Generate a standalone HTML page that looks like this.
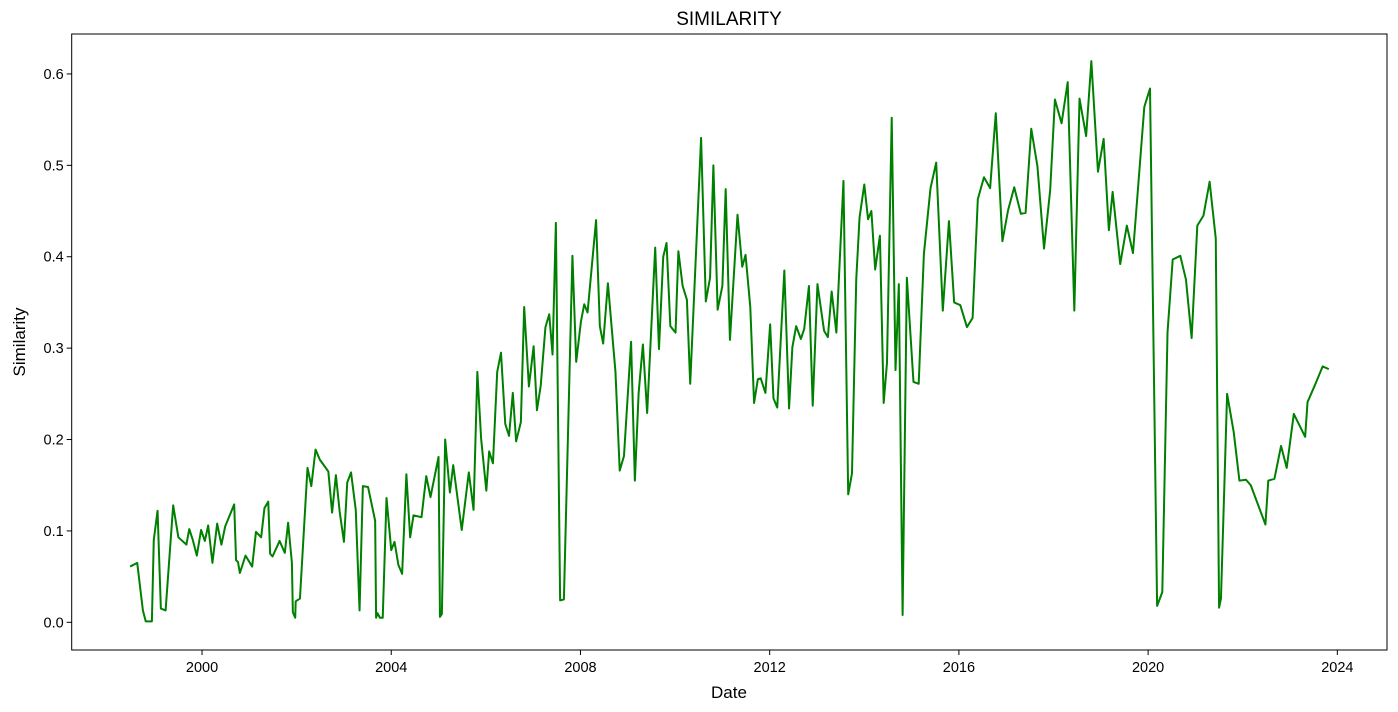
<!DOCTYPE html>
<html><head><meta charset="utf-8">
<style>
html,body{margin:0;padding:0;background:#fff;}
svg{display:block;font-family:"Liberation Sans","DejaVu Sans",sans-serif;}
</style></head>
<body>
<svg id="chart" width="1398" height="712" viewBox="0 0 1398 712" xmlns="http://www.w3.org/2000/svg">
<rect x="0" y="0" width="1398" height="712" fill="#fff"/>
<text x="729" y="25" font-size="19" text-anchor="middle" fill="#000">SIMILARITY</text>
<text x="729" y="698" font-size="17" text-anchor="middle" fill="#000">Date</text>
<text x="25" y="342" font-size="17" text-anchor="middle" fill="#000" transform="rotate(-90 25 342)">Similarity</text>
<g id="ticks"></g>
<g id="plot"></g>
<rect x="71.7" y="34" width="1315.3" height="616" fill="none" stroke="#000" stroke-width="1"/>
</svg>
<script>
const dates = [1998.48,1998.63,1998.75,1998.81,1998.94,1998.98,1999.06,1999.13,1999.23,1999.39,1999.50,1999.67,1999.73,1999.80,1999.89,1999.98,2000.06,2000.13,2000.22,2000.32,2000.41,2000.49,2000.68,2000.72,2000.76,2000.80,2000.92,2001.06,2001.14,2001.25,2001.32,2001.40,2001.44,2001.49,2001.64,2001.75,2001.82,2001.90,2001.92,2001.97,2001.98,2002.07,2002.23,2002.31,2002.40,2002.49,2002.67,2002.75,2002.83,2002.91,2003.00,2003.07,2003.15,2003.25,2003.33,2003.40,2003.51,2003.66,2003.68,2003.71,2003.76,2003.82,2003.90,2004.00,2004.07,2004.15,2004.23,2004.32,2004.40,2004.47,2004.64,2004.74,2004.83,2005.00,2005.03,2005.07,2005.14,2005.24,2005.31,2005.49,2005.64,2005.74,2005.82,2005.90,2006.01,2006.07,2006.15,2006.24,2006.32,2006.41,2006.49,2006.57,2006.64,2006.74,2006.81,2006.91,2007.01,2007.08,2007.16,2007.26,2007.34,2007.41,2007.48,2007.57,2007.65,2007.83,2007.91,2008.01,2008.08,2008.15,2008.33,2008.41,2008.48,2008.58,2008.74,2008.83,2008.92,2009.07,2009.15,2009.23,2009.32,2009.41,2009.58,2009.66,2009.75,2009.82,2009.90,2010.01,2010.07,2010.16,2010.25,2010.32,2010.55,2010.65,2010.74,2010.81,2010.90,2011.00,2011.07,2011.16,2011.32,2011.42,2011.49,2011.59,2011.67,2011.75,2011.81,2011.91,2012.01,2012.08,2012.16,2012.31,2012.41,2012.48,2012.56,2012.66,2012.73,2012.83,2012.91,2013.01,2013.15,2013.23,2013.31,2013.41,2013.56,2013.66,2013.74,2013.83,2013.90,2014.00,2014.08,2014.15,2014.23,2014.33,2014.41,2014.48,2014.58,2014.66,2014.73,2014.81,2014.90,2015.04,2015.15,2015.26,2015.40,2015.52,2015.66,2015.79,2015.90,2016.03,2016.17,2016.29,2016.40,2016.53,2016.66,2016.78,2016.92,2017.04,2017.17,2017.31,2017.41,2017.53,2017.66,2017.80,2017.93,2018.03,2018.17,2018.30,2018.44,2018.55,2018.69,2018.80,2018.94,2019.06,2019.17,2019.25,2019.41,2019.55,2019.68,2019.92,2020.04,2020.19,2020.30,2020.41,2020.52,2020.68,2020.80,2020.92,2021.04,2021.17,2021.30,2021.43,2021.50,2021.54,2021.67,2021.81,2021.93,2022.07,2022.17,2022.48,2022.54,2022.67,2022.81,2022.93,2023.08,2023.32,2023.37,2023.53,2023.69,2023.82];
const similarity = [0.061,0.065,0.013,0.001,0.001,0.090,0.122,0.015,0.013,0.128,0.093,0.085,0.102,0.091,0.073,0.101,0.089,0.106,0.065,0.108,0.085,0.105,0.129,0.068,0.066,0.054,0.073,0.061,0.099,0.093,0.125,0.132,0.075,0.072,0.089,0.076,0.109,0.065,0.011,0.005,0.023,0.026,0.169,0.149,0.189,0.178,0.165,0.120,0.161,0.121,0.088,0.153,0.164,0.123,0.013,0.149,0.148,0.111,0.005,0.010,0.005,0.005,0.136,0.079,0.088,0.063,0.053,0.162,0.093,0.117,0.115,0.160,0.137,0.181,0.006,0.009,0.200,0.142,0.172,0.101,0.164,0.123,0.274,0.201,0.144,0.187,0.174,0.274,0.295,0.217,0.204,0.251,0.198,0.219,0.345,0.258,0.302,0.232,0.259,0.323,0.337,0.293,0.437,0.024,0.025,0.401,0.285,0.329,0.348,0.339,0.440,0.324,0.305,0.371,0.274,0.166,0.182,0.307,0.155,0.251,0.304,0.229,0.410,0.299,0.400,0.415,0.324,0.317,0.406,0.368,0.353,0.261,0.530,0.351,0.377,0.500,0.342,0.368,0.474,0.309,0.446,0.389,0.402,0.345,0.240,0.266,0.267,0.251,0.326,0.245,0.235,0.385,0.234,0.301,0.324,0.310,0.321,0.368,0.237,0.370,0.319,0.312,0.362,0.317,0.483,0.140,0.163,0.375,0.443,0.479,0.441,0.450,0.386,0.423,0.240,0.284,0.552,0.276,0.370,0.008,0.377,0.263,0.261,0.403,0.475,0.503,0.341,0.439,0.350,0.347,0.323,0.333,0.463,0.487,0.475,0.557,0.417,0.451,0.476,0.447,0.448,0.540,0.499,0.409,0.473,0.572,0.546,0.591,0.341,0.573,0.532,0.614,0.493,0.529,0.429,0.471,0.392,0.434,0.404,0.564,0.584,0.018,0.033,0.317,0.397,0.401,0.375,0.311,0.434,0.445,0.482,0.420,0.016,0.026,0.250,0.208,0.155,0.156,0.150,0.107,0.155,0.157,0.193,0.169,0.228,0.203,0.241,0.260,0.280,0.277];
const xTickYears = [2000,2004,2008,2012,2016,2020,2024];
const yTickValues = [0.0,0.1,0.2,0.3,0.4,0.5,0.6];

const NS = "http://www.w3.org/2000/svg";
const X0 = 71.7, X1 = 1387, Y0 = 650, Y1 = 34;
const xMin = 1997.245, xMax = 2025.05, yMin = -0.0303, yMax = 0.6437;
function xScale(v){ return X0 + (v - xMin) / (xMax - xMin) * (X1 - X0); }
function yScale(v){ return Y0 - (v - yMin) / (yMax - yMin) * (Y0 - Y1); }

const ticks = document.getElementById('ticks');
xTickYears.forEach(function(yr){
  const x = xScale(yr);
  const l = document.createElementNS(NS,'line');
  l.setAttribute('x1',x); l.setAttribute('x2',x); l.setAttribute('y1',Y0); l.setAttribute('y2',Y0+5);
  l.setAttribute('stroke','#000');
  
  
  ticks.appendChild(l);
  const t = document.createElementNS(NS,'text');
  t.setAttribute('x',x); t.setAttribute('y',Y0+22); t.setAttribute('font-size','14.5');
  t.setAttribute('text-anchor','middle');
  t.textContent = String(yr);
  
  
  ticks.appendChild(t);
});
yTickValues.forEach(function(v){
  const y = yScale(v);
  const l = document.createElementNS(NS,'line');
  l.setAttribute('x1',X0-5); l.setAttribute('x2',X0); l.setAttribute('y1',y); l.setAttribute('y2',y);
  l.setAttribute('stroke','#000');
  
  
  ticks.appendChild(l);
  const t = document.createElementNS(NS,'text');
  t.setAttribute('x',X0-8); t.setAttribute('y',y+5); t.setAttribute('font-size','14.5');
  t.setAttribute('text-anchor','end');
  t.textContent = v.toFixed(1);
  
  
  ticks.appendChild(t);
});

const plot = document.getElementById('plot');
let d = '';
for (let i = 0; i < dates.length; i++) {
  d += (i ? 'L' : 'M') + xScale(dates[i]).toFixed(2) + ',' + yScale(similarity[i]).toFixed(2);
}
const path = document.createElementNS(NS,'path');
path.setAttribute('d', d);
path.setAttribute('fill','none');
path.setAttribute('stroke','#008000');
path.setAttribute('stroke-width','2');
path.setAttribute('stroke-linejoin','round');


plot.appendChild(path);
</script>
</body></html>
